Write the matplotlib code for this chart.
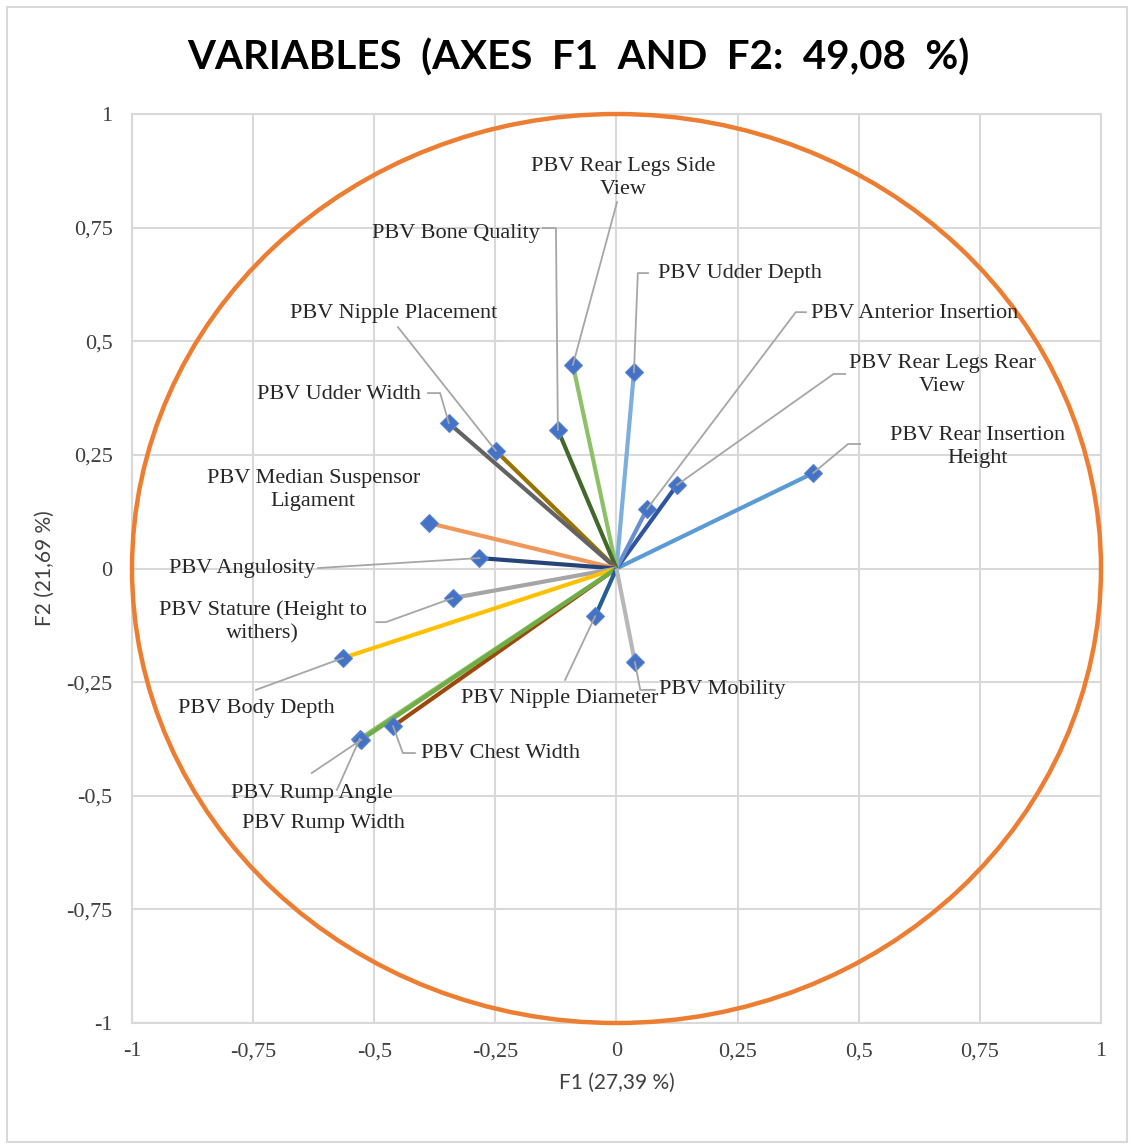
import numpy as np
import matplotlib
matplotlib.use("Agg")
import matplotlib.pyplot as plt
from matplotlib.patches import Circle, Rectangle

# variable loadings on F1 / F2
variables = [
    "PBV Rear Insertion Height", "PBV Rear Legs Rear View", "PBV Anterior Insertion",
    "PBV Udder Depth", "PBV Rear Legs Side View", "PBV Bone Quality",
    "PBV Nipple Placement", "PBV Udder Width", "PBV Median Suspensor Ligament",
    "PBV Angulosity", "PBV Stature (Height to withers)", "PBV Body Depth",
    "PBV Chest Width", "PBV Rump Width", "PBV Rump Angle",
    "PBV Nipple Diameter", "PBV Mobility",
]
f1 = [0.406, 0.125, 0.063, 0.036, -0.090, -0.121, -0.249, -0.346, -0.387,
      -0.283, -0.338, -0.565, -0.461, -0.530, -0.527, -0.044, 0.038]
f2 = [0.210, 0.184, 0.131, 0.432, 0.448, 0.305, 0.259, 0.320, 0.100,
      0.023, -0.065, -0.197, -0.347, -0.375, -0.377, -0.105, -0.206]

line_colors = ["#5B9BD5", "#2F55A0", "#698ED0", "#7CAFDD", "#8CC168", "#43682B",
               "#997300", "#636363", "#F1975A", "#264478", "#A5A5A5", "#FFC000",
               "#9E480E", "#8CC168", "#70AD47", "#255E91", "#B7B7B7"]

# label text, text position, alignment, leader line waypoints (None = no leader)
labels = {
    "PBV Rear Insertion Height": ("PBV Rear Insertion\nHeight", (0.746, 0.267), "center",
                                  [(0.503, 0.274), (0.478, 0.274)]),
    "PBV Rear Legs Rear View": ("PBV Rear Legs Rear\nView", (0.672, 0.426), "center",
                                [(0.472, 0.428), (0.448, 0.428)]),
    "PBV Anterior Insertion": ("PBV Anterior Insertion", (0.401, 0.562), "left",
                               [(0.391, 0.564), (0.370, 0.564)]),
    "PBV Udder Depth": ("PBV Udder Depth", (0.086, 0.650), "left",
                        [(0.065, 0.650), (0.044, 0.650)]),
    "PBV Rear Legs Side View": ("PBV Rear Legs Side\nView", (0.013, 0.859), "center",
                                [(0.001, 0.806)]),
    "PBV Bone Quality": ("PBV Bone Quality", (-0.331, 0.738), "center",
                         [(-0.152, 0.749), (-0.125, 0.749)]),
    "PBV Nipple Placement": ("PBV Nipple Placement", (-0.461, 0.560), "center",
                             [(-0.451, 0.531)]),
    "PBV Udder Width": ("PBV Udder Width", (-0.573, 0.382), "center",
                        [(-0.389, 0.386), (-0.364, 0.386)]),
    "PBV Median Suspensor Ligament": ("PBV Median Suspensor\nLigament", (-0.626, 0.173),
                                      "center", None),
    "PBV Angulosity": ("PBV Angulosity", (-0.773, 0.001), "center", [(-0.616, 0.001)]),
    "PBV Stature (Height to withers)": ("PBV Stature (Height to\nwithers)", (-0.730, -0.118),
                                        "center", [(-0.496, -0.118), (-0.476, -0.118)]),
    "PBV Body Depth": ("PBV Body Depth", (-0.744, -0.307), "center", [(-0.744, -0.267)]),
    "PBV Chest Width": ("PBV Chest Width", (-0.240, -0.406), "center",
                        [(-0.416, -0.406), (-0.441, -0.406)]),
    "PBV Rump Width": ("PBV Rump Width", (-0.604, -0.562), "center", [(-0.577, -0.487)]),
    "PBV Rump Angle": ("PBV Rump Angle", (-0.629, -0.494), "center", [(-0.629, -0.450)]),
    "PBV Nipple Diameter": ("PBV Nipple Diameter", (-0.117, -0.285), "center",
                            [(-0.106, -0.245)]),
    "PBV Mobility": ("PBV Mobility", (0.218, -0.267), "center",
                     [(0.079, -0.267), (0.049, -0.267)]),
}

ticks = [-1, -0.75, -0.5, -0.25, 0, 0.25, 0.5, 0.75, 1]
tick_labels = ["-1", "-0,75", "-0,5", "-0,25", "0", "0,25", "0,5", "0,75", "1"]

fig = plt.figure(figsize=(11.34, 11.47), dpi=100)
ax = fig.add_axes([0.1164, 0.1081, 0.8545, 0.7925])

# chart frame
fig.patches.append(Rectangle((0.006, 0.004), 0.988, 0.99, transform=fig.transFigure,
                             fill=False, edgecolor="#D9D9D9", linewidth=1.5))

grid_c = "#D9D9D9"
ax.set_xlim(-1, 1)
ax.set_ylim(-1, 1)
ax.set_xticks(ticks)
ax.set_yticks(ticks)
ax.set_xticklabels(tick_labels, family="Liberation Serif", fontsize=16)
ax.set_yticklabels(tick_labels, family="Liberation Serif", fontsize=16)
ax.tick_params(length=0, pad=14, colors="#404040")
ax.grid(True, color=grid_c, linewidth=1.5)
ax.set_axisbelow(True)
for s in ax.spines.values():
    s.set_color(grid_c)
    s.set_linewidth(1.5)

for i, name in enumerate(variables):
    ax.plot([0, f1[i]], [0, f2[i]], color=line_colors[i], linewidth=3, zorder=3,
            solid_capstyle="butt")

ax.plot(f1, f2, linestyle="none", marker="D", markersize=9, color="#4472C4",
        markeredgecolor="#5A85D0", markeredgewidth=0.8, zorder=5)

ax.add_patch(Circle((0, 0), 1, fill=False, edgecolor="#ED7D31", linewidth=3.2,
                    zorder=4, clip_on=False))

for i, name in enumerate(variables):
    text, pos, ha, leader = labels[name]
    ax.text(pos[0], pos[1], text, ha=ha, va="center", family="Liberation Serif",
            fontsize=16, color="#262626", multialignment="center", linespacing=1.3,
            zorder=6)
    if leader:
        xs = [p[0] for p in leader] + [f1[i]]
        ys = [p[1] for p in leader] + [f2[i]]
        ax.plot(xs, ys, color="#A6A6A6", linewidth=1.3, zorder=6)

ax.set_xlabel("F1 (27,39 %)", family="Lato", fontsize=15, color="#404040", labelpad=8)
ax.set_ylabel("F2 (21,69 %)", family="Lato", fontsize=15, color="#404040", labelpad=8)

fig.text(0.51, 0.950, "VARIABLES  (AXES  F1  AND  F2:  49,08  %)", ha="center", va="center",
         family="Lato", fontweight="bold", fontsize=29, color="#000000")

fig.savefig("out.png", dpi=100, facecolor="white")
